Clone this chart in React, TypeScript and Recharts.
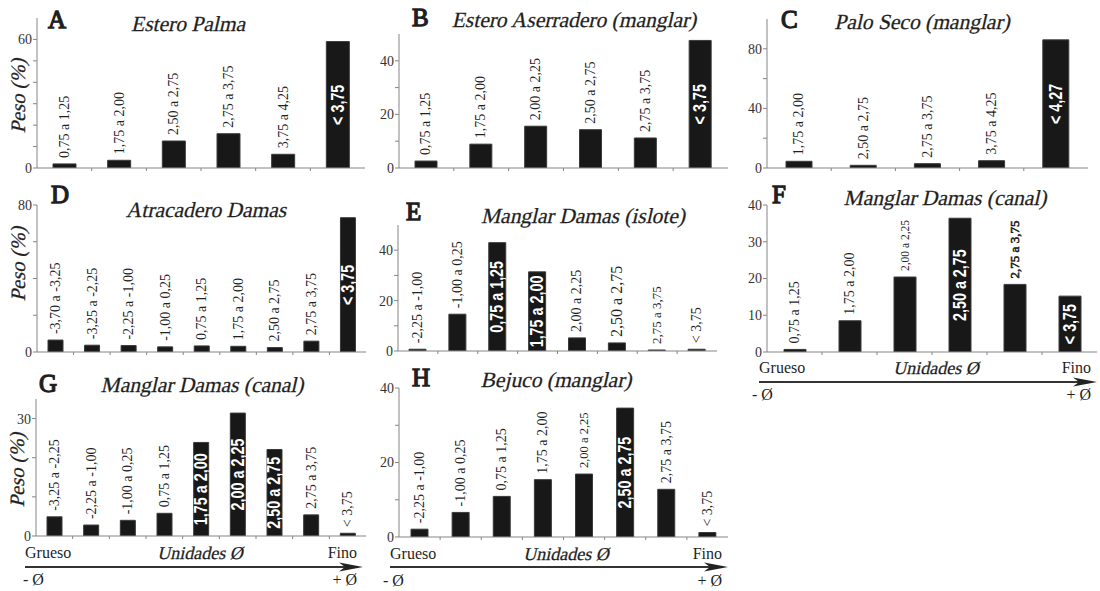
import { Bar, BarChart, LabelList, XAxis, YAxis } from 'recharts'

// Peso (%) por clase granulométrica
const catsA = ['0,75 a 1,25', '1,75 a 2,00', '2,50 a 2,75', '2,75 a 3,75', '3,75 a 4,25', '< 3,75']
const pesoA = [1.9, 3.6, 12.6, 16, 6.4, 59]

const catsB = ['0,75 a 1,25', '1,75 a 2,00', '2,00 a 2,25', '2,50 a 2,75', '2,75 a 3,75', '< 3,75']
const pesoB = [2.6, 8.9, 15.6, 14.3, 11.2, 47.6]

const catsC = ['1,75 a 2,00', '2,50 a 2,75', '2,75 a 3,75', '3,75 a 4,25', '< 4,27']
const pesoC = [4.5, 1.8, 2.9, 4.9, 86]

const catsD = [
  '-3,70 a -3,25', '-3,25 a -2,25', '-2,25 a -1,00', '-1,00 a 0,25', '0,75 a 1,25',
  '1,75 a 2,00', '2,50 a 2,75', '2,75 a 3,75', '< 3,75',
]
const pesoD = [6.5, 3.7, 3.5, 2.8, 3.3, 3.1, 2.4, 5.9, 73.1]

const catsE = [
  '-2,25 a -1,00', '-1,00 a 0,25', '0,75 a 1,25', '1,75 a 2,00',
  '2,00 a 2,25', '2,50 a 2,75', '2,75 a 3,75', '< 3,75',
]
const pesoE = [0.7, 14.6, 43, 31.4, 5.2, 3.2, 0.4, 0.7]

const catsF = ['0,75 a 1,25', '1,75 a 2,00', '2,00 a 2,25', '2,50 a 2,75', '2,75 a 3,75', '< 3,75']
const pesoF = [0.7, 8.5, 20.4, 36.4, 18.4, 15.2]

const catsG = [
  '-3,25 a -2,25', '-2,25 a -1,00', '-1,00 a 0,25', '0,75 a 1,25', '1,75 a 2,00',
  '2,00 a 2,25', '2,50 a 2,75', '2,75 a 3,75', '< 3,75',
]
const pesoG = [4.9, 2.8, 4.0, 5.8, 23.9, 31.4, 22.1, 5.4, 0.7]

const catsH = [
  '-2,25 a -1,00', '-1,00 a 0,25', '0,75 a 1,25', '1,75 a 2,00',
  '2,00 a 2,25', '2,50 a 2,75', '2,75 a 3,75', '< 3,75',
]
const pesoH = [2.1, 6.6, 10.9, 15.4, 16.9, 34.6, 12.8, 1.2]

// only the upright serif face is installed, so italics are slanted by hand
const serif = 'Liberation Serif, Times New Roman, serif'
const sansBold = 'Liberation Sans, Arial, sans-serif'
const ink = '#1f1f1f'
const axisGray = '#858585'
const SLANT = -13

// approximate advance widths (em) of a narrow bold sans, used to squeeze the white labels
const narrowWidths: Record<string, number> = { ',': 0.228, ' ': 0.228, '<': 0.479, '-': 0.273 }
const narrowLength = (s: string, size: number) =>
  s.split('').reduce((acc, ch) => acc + (narrowWidths[ch] ?? 0.456), 0) * size

interface Box {
  left: number
  top: number
  right: number
  bottom: number
}

interface Panel {
  key: string
  title: string
  cats: string[]
  values: number[]
  inside: number[]
  max: number
  ticks: number[]
  shown: number[]
  box: Box
  barSize: number
  titleLetter: [number, number]
  titleText: [number, number]
}

const panels: Panel[] = [
  {
    key: 'A', title: 'Estero Palma', cats: catsA, values: pesoA, inside: [5],
    max: 70, ticks: [0, 10, 20, 30, 40, 50, 60], shown: [0, 60],
    box: { left: 37, top: 18, right: 365, bottom: 168 }, barSize: 23,
    titleLetter: [48, 28], titleText: [188, 31],
  },
  {
    key: 'B', title: 'Estero Aserradero (manglar)', cats: catsB, values: pesoB, inside: [5],
    max: 50, ticks: [0, 10, 20, 30, 40], shown: [0, 20, 40],
    box: { left: 399, top: 34, right: 728, bottom: 168 }, barSize: 22,
    titleLetter: [412, 26], titleText: [574, 27],
  },
  {
    key: 'C', title: 'Palo Seco (manglar)', cats: catsC, values: pesoC, inside: [4],
    max: 100, ticks: [0, 20, 40, 60, 80], shown: [0, 40, 80],
    box: { left: 767, top: 19, right: 1088, bottom: 168 }, barSize: 26,
    titleLetter: [781, 28], titleText: [922, 29],
  },
  {
    key: 'D', title: 'Atracadero Damas', cats: catsD, values: pesoD, inside: [8],
    max: 80, ticks: [0, 20, 40, 60, 80], shown: [0, 80],
    box: { left: 37, top: 205, right: 366, bottom: 352 }, barSize: 15,
    titleLetter: [51, 203], titleText: [206, 217],
  },
  {
    key: 'E', title: 'Manglar Damas (islote)', cats: catsE, values: pesoE, inside: [2, 3],
    max: 50, ticks: [0, 10, 20, 30, 40], shown: [0, 20, 40],
    box: { left: 398, top: 225, right: 717, bottom: 351 }, barSize: 17,
    titleLetter: [406, 220], titleText: [583, 223],
  },
  {
    key: 'F', title: 'Manglar Damas (canal)', cats: catsF, values: pesoF, inside: [3, 5],
    max: 40, ticks: [0, 10, 20, 30, 40], shown: [0, 10, 20, 30, 40],
    box: { left: 767, top: 205, right: 1097, bottom: 352 }, barSize: 22,
    titleLetter: [772, 203], titleText: [945, 205],
  },
  {
    key: 'G', title: 'Manglar Damas (canal)', cats: catsG, values: pesoG, inside: [4, 5, 6],
    max: 35, ticks: [0, 10, 20, 30], shown: [0, 30],
    box: { left: 36, top: 399, right: 366, bottom: 536 }, barSize: 15,
    titleLetter: [39, 392], titleText: [202, 392],
  },
  {
    key: 'H', title: 'Bejuco (manglar)', cats: catsH, values: pesoH, inside: [5],
    max: 40, ticks: [0, 10, 20, 30, 40], shown: [0, 20, 40],
    box: { left: 399, top: 388, right: 728, bottom: 537 }, barSize: 17,
    titleLetter: [412, 386], titleText: [556, 387],
  },
]

// per-label type tweaks: the original figure mixes a few label sizes
const labelTweaks: Record<string, Record<number, { fontSize?: number; bold?: boolean }>> = {
  E: { 5: { fontSize: 16 }, 6: { fontSize: 13 } },
  F: { 2: { fontSize: 11.5 }, 4: { fontSize: 13, bold: true } },
  H: { 4: { fontSize: 12.5 } },
}

const Y_W = 35
const M_TOP = 10
const M_RIGHT = 5
const X_H = 10

interface SlantedProps {
  x: number
  y: number
  size: number
  anchor?: 'start' | 'middle' | 'end'
  rotate?: number
  children: string
}

const Slanted = ({ x, y, size, anchor = 'middle', rotate = 0, children }: SlantedProps) => (
  <text
    x={0}
    y={0}
    transform={`translate(${x}, ${y}) rotate(${rotate}) skewX(${SLANT})`}
    textAnchor={anchor}
    fontFamily={serif}
    fontSize={size}
    fill={ink}
    stroke={ink}
    strokeWidth={0.25}
  >
    {children}
  </text>
)

const PanelChart = ({ panel }: { panel: Panel }) => {
  const { box } = panel
  const plotW = box.right - box.left
  const plotH = box.bottom - box.top
  const band = plotW / panel.cats.length
  const data = panel.cats.map((name, i) => ({ name, peso: panel.values[i] }))

  const renderTick = (props: any) => {
    const { x, y, index } = props
    if (index >= panel.cats.length - 1) return <g />
    const bx = Number(x) + band / 2
    return <line x1={bx} x2={bx} y1={Number(y)} y2={Number(y) + 3} stroke={axisGray} strokeWidth={1} />
  }

  const renderLabel = (props: any) => {
    const x = Number(props.x)
    const y = Number(props.y)
    const w = Number(props.width)
    const h = Number(props.height)
    const index = Number(props.index)
    const label = String(props.value)
    const cx = x + w / 2
    if (panel.inside.includes(index)) {
      const cy = y + h / 2
      const size = 17.5
      return (
        <text
          x={cx}
          y={cy}
          transform={`rotate(-90, ${cx}, ${cy})`}
          textAnchor="middle"
          dominantBaseline="central"
          fill="#ffffff"
          fontFamily={sansBold}
          fontWeight="bold"
          fontSize={size}
          textLength={narrowLength(label, size)}
          lengthAdjust="spacingAndGlyphs"
        >
          {label}
        </text>
      )
    }
    const tweak = labelTweaks[panel.key]?.[index] ?? {}
    const ty = y - 6
    return (
      <text
        x={cx}
        y={ty}
        transform={`rotate(-90, ${cx}, ${ty})`}
        textAnchor="start"
        dominantBaseline="central"
        fill={ink}
        stroke={tweak.bold ? ink : 'none'}
        strokeWidth={tweak.bold ? 0.6 : 0}
        fontFamily={serif}
        fontSize={tweak.fontSize ?? 14}
      >
        {label}
      </text>
    )
  }

  return (
    <div style={{ position: 'absolute', left: box.left - Y_W, top: box.top - M_TOP }}>
      <BarChart
        width={Y_W + plotW + M_RIGHT}
        height={M_TOP + plotH + X_H}
        data={data}
        margin={{ top: M_TOP, right: M_RIGHT, left: 0, bottom: 0 }}
      >
        <XAxis
          dataKey="name"
          height={X_H}
          interval={0}
          tickSize={0}
          tickMargin={0}
          tick={renderTick}
          axisLine={{ stroke: axisGray }}
          padding={{ left: 0, right: 0 }}
        />
        <YAxis
          type="number"
          width={Y_W}
          domain={[0, panel.max]}
          ticks={panel.ticks}
          interval={0}
          allowDataOverflow
          tickSize={4}
          tickMargin={1}
          axisLine={{ stroke: axisGray }}
          tickLine={{ stroke: axisGray }}
          tick={{ fill: '#333', fontSize: 14, fontFamily: serif }}
          tickFormatter={(v: number) => (panel.shown.includes(v) ? String(v) : '')}
        />
        <Bar
          dataKey="peso"
          fill="#181818"
          stroke="#3a3a3a"
          strokeWidth={1}
          barSize={panel.barSize}
          isAnimationActive={false}
        >
          <LabelList dataKey="name" content={renderLabel} />
        </Bar>
      </BarChart>
    </div>
  )
}

interface ScaleBar {
  x1: number
  x2: number
  textY: number
  lineY: number
  signY: number
  center: number
  minusX: number
}

const scaleBars: ScaleBar[] = [
  { x1: 759, x2: 1097, textY: 373, lineY: 382, signY: 400, center: 936, minusX: 752 },
  { x1: 25, x2: 363, textY: 558, lineY: 567, signY: 585, center: 200, minusX: 23 },
  { x1: 390, x2: 728, textY: 559, lineY: 567, signY: 586, center: 566, minusX: 383 },
]

const pesoLabels: [number, number][] = [
  [25, 96],
  [25, 264],
  [24, 470],
]

const Overlay = () => (
  <svg
    width={1100}
    height={591}
    style={{ position: 'absolute', left: 0, top: 0, pointerEvents: 'none' }}
  >
    {panels.map((p) => (
      <g key={p.key}>
        <text
          x={p.titleLetter[0]}
          y={p.titleLetter[1]}
          fontFamily={serif}
          fontSize={25}
          fill={ink}
          stroke={ink}
          strokeWidth={1.3}
        >
          {p.key}
        </text>
        <Slanted x={p.titleText[0]} y={p.titleText[1]} size={21.5}>
          {p.title}
        </Slanted>
      </g>
    ))}
    {pesoLabels.map(([x, y]) => (
      <Slanted key={`${x}-${y}`} x={x} y={y} size={20.5} rotate={-90}>
        Peso (%)
      </Slanted>
    ))}
    {scaleBars.map((s) => (
      <g key={s.x1}>
        <text x={s.x1} y={s.textY} fontSize={16} fill={ink} fontFamily={serif}>Grueso</text>
        <Slanted x={s.center} y={s.textY + 1} size={18}>
          Unidades Ø
        </Slanted>
        <text x={s.x2 - 6} y={s.textY} fontSize={16} textAnchor="end" fill={ink} fontFamily={serif}>
          Fino
        </text>
        <line x1={s.x1} x2={s.x2 - 12} y1={s.lineY} y2={s.lineY} stroke="#333" strokeWidth={2} />
        <polygon
          points={`${s.x2},${s.lineY} ${s.x2 - 24},${s.lineY - 4.5} ${s.x2 - 18},${s.lineY} ${s.x2 - 24},${s.lineY + 4.5}`}
          fill="#222"
        />
        <text x={s.minusX} y={s.signY} fontSize={16} fill={ink} fontFamily={serif}>- Ø</text>
        <text x={s.x2 - 6} y={s.signY} fontSize={16} textAnchor="end" fill={ink} fontFamily={serif}>
          + Ø
        </text>
      </g>
    ))}
  </svg>
)

export default function App() {
  return (
    <div
      style={{
        position: 'absolute',
        left: 0,
        top: 0,
        width: 1100,
        height: 591,
        background: '#ffffff',
        overflow: 'hidden',
      }}
    >
      {panels.map((p) => (
        <PanelChart key={p.key} panel={p} />
      ))}
      <Overlay />
    </div>
  )
}
